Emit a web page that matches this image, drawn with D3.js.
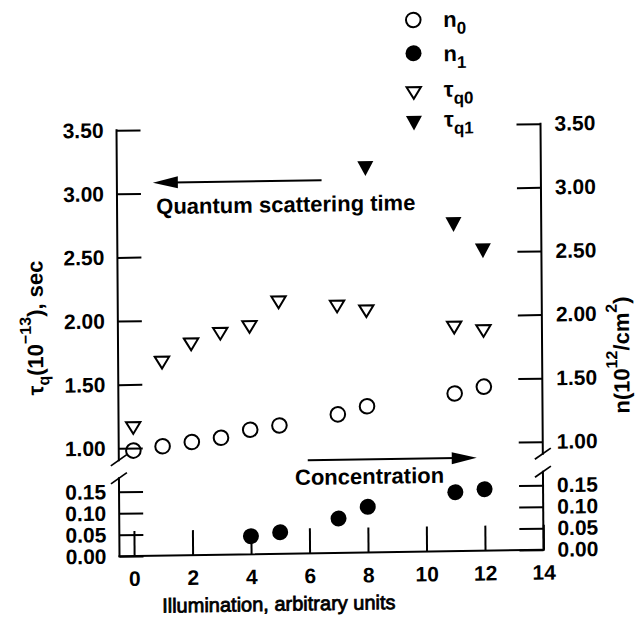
<!DOCTYPE html>
<html><head><meta charset="utf-8">
<script src="https://cdn.jsdelivr.net/npm/d3@7"></script>
<style>
html,body{margin:0;padding:0;background:#fff;}
svg{display:block;}
text{font-family:"Liberation Sans",Arial,Helvetica,sans-serif;fill:#000;}
</style>
</head><body>
<svg id="chart" width="637" height="622"></svg>
<script>
// ---- data ----
const illumN0 = [0, 1, 2, 3, 4, 5, 7, 8, 11, 12];
const n0Values = [0.98, 1.01, 1.04, 1.07, 1.13, 1.16, 1.24, 1.30, 1.39, 1.44];
const illumN1 = [4, 5, 7, 8, 11, 12];
const n1Values = [0.042, 0.050, 0.080, 0.106, 0.137, 0.143];
const illumTauQ0 = [0, 1, 2, 3, 4, 5, 7, 8, 11, 12];
const tauQ0Values = [1.16, 1.67, 1.81, 1.89, 1.94, 2.13, 2.09, 2.05, 1.91, 1.88];
const illumTauQ1 = [8, 11, 12];
const tauQ1Values = [3.17, 2.72, 2.51];
const xTicks = [0, 2, 4, 6, 8, 10, 12, 14];
const upperTicks = [1.00, 1.50, 2.00, 2.50, 3.00, 3.50];
const lowerTicks = [0.00, 0.05, 0.10, 0.15];
const legendMain = ["n", "n", "\u03C4", "\u03C4"];
const legendSub = ["0", "1", "q0", "q1"];
const xTitle = "Illumination, arbitrary units";

// ---- layout ----
const svg = d3.select("#chart");
svg.append("rect").attr("width", 637).attr("height", 622).attr("fill", "#fff");
// slight scan tilt
const root = svg.append("g").attr("transform", "matrix(1,-0.0154,0.007,1,-2.38,5.08)");

const x = d3.scaleLinear().domain([-0.5, 14]).range([118, 542]);
const yU = d3.scaleLinear().domain([1, 3.5]).range([445, 127]);
const yL = d3.scaleLinear().domain([0, 0.15]).range([553, 488.5]);

const FONT = '"Liberation Sans",Arial,Helvetica,sans-serif';
const fmt = d3.format(".2f");
function styleAxis(g) {
  g.selectAll(".domain").remove();
  g.selectAll("line").attr("stroke", "#000").attr("stroke-width", 2);
  g.selectAll("text").attr("font-size", 21).attr("font-weight", "bold")
    .attr("fill", "#000").attr("font-family", FONT);
}
const xL = x(-0.5), xR = x(14);

// left axes
root.append("g").attr("transform", `translate(${xL},0)`)
  .call(d3.axisLeft(yU).tickValues(upperTicks).tickFormat(fmt).tickSizeInner(-24).tickSizeOuter(0).tickPadding(13))
  .call(styleAxis);
root.append("g").attr("transform", `translate(${xL},0)`)
  .call(d3.axisLeft(yL).tickValues(lowerTicks).tickFormat(fmt).tickSizeInner(-24).tickSizeOuter(0).tickPadding(13))
  .call(styleAxis);
// right axes
root.append("g").attr("transform", `translate(${xR},0)`)
  .call(d3.axisRight(yU).tickValues(upperTicks).tickFormat(fmt).tickSizeInner(-24).tickSizeOuter(0).tickPadding(14))
  .call(styleAxis);
root.append("g").attr("transform", `translate(${xR},0)`)
  .call(d3.axisRight(yL).tickValues(lowerTicks).tickFormat(fmt).tickSizeInner(-24).tickSizeOuter(0).tickPadding(14))
  .call(styleAxis);
// bottom axis
root.append("g").attr("transform", `translate(0,${yL(0)})`)
  .call(d3.axisBottom(x).tickValues(xTicks).tickFormat(d3.format("d")).tickSizeInner(-25).tickSizeOuter(0).tickPadding(15))
  .call(styleAxis);

// axis lines with breaks
const breakA = yU(1) + 12, breakB = yL(0.15) - 13.5;
const axisLines = [
  [xL, yU(3.5), xL, breakA], [xL, breakB, xL, yL(0)],
  [xR, yU(3.5), xR, breakA], [xR, breakB, xR, yL(0)],
  [xL, yL(0), xR, yL(0)]
];
root.selectAll(".axline").data(axisLines).join("line").attr("class", "axline")
  .attr("x1", d => d[0]).attr("y1", d => d[1]).attr("x2", d => d[2]).attr("y2", d => d[3])
  .attr("stroke", "#000").attr("stroke-width", 2).attr("stroke-linecap", "square");
const slashes = [];
[xL, xR].forEach(ax => [breakA, breakB].forEach(by => slashes.push([ax, by])));
root.selectAll(".slash").data(slashes).join("line").attr("class", "slash")
  .attr("x1", d => d[0] - 8).attr("y1", d => d[1] + 5.5)
  .attr("x2", d => d[0] + 8).attr("y2", d => d[1] - 5.5)
  .attr("stroke", "#000").attr("stroke-width", 1.8);

// ---- marks ----
const triOpen = "M-7.2,-5.6L7.2,-5.6L0,6.2Z";
const triFill = "M-8,-7.2L8,-7.2L0,7.6Z";

root.selectAll(".n0").data(d3.zip(illumN0, n0Values)).join("circle").attr("class", "n0")
  .attr("cx", d => x(d[0])).attr("cy", d => yU(d[1])).attr("r", 7.3)
  .attr("fill", "none").attr("stroke", "#000").attr("stroke-width", 2);
root.selectAll(".n1").data(d3.zip(illumN1, n1Values)).join("circle").attr("class", "n1")
  .attr("cx", d => x(d[0])).attr("cy", d => yL(d[1])).attr("r", 8).attr("fill", "#000");
root.selectAll(".tq0").data(d3.zip(illumTauQ0, tauQ0Values)).join("path").attr("class", "tq0")
  .attr("d", triOpen).attr("transform", d => `translate(${x(d[0])},${yU(d[1])})`)
  .attr("fill", "none").attr("stroke", "#000").attr("stroke-width", 2).attr("stroke-linejoin", "miter");
root.selectAll(".tq1").data(d3.zip(illumTauQ1, tauQ1Values)).join("path").attr("class", "tq1")
  .attr("d", triFill).attr("transform", d => `translate(${x(d[0])},${yU(d[1])})`)
  .attr("fill", "#000");

// ---- annotations ----
function arrow(x0, x1, y) {
  const dir = Math.sign(x1 - x0);
  root.append("line").attr("x1", x0).attr("y1", y).attr("x2", x1 - dir * 20).attr("y2", y)
    .attr("stroke", "#000").attr("stroke-width", 2);
  root.append("path").attr("d", `M${x1},${y}L${x1 - dir * 25},${y - 6}L${x1 - dir * 25},${y + 6}Z`).attr("fill", "#000");
}
arrow(x(6.5), x(0.73), yU(3.083));
root.append("text").attr("x", x(0.84)).attr("y", yU(2.836))
  .attr("font-size", 22).attr("font-weight", "bold").text("Quantum scattering time");
arrow(x(5.96), x(11.74), yU(0.882));
root.append("text").attr("x", x(5.52)).attr("y", yU(0.689))
  .attr("font-size", 22).attr("font-weight", "bold").text("Concentration");

// ---- titles ----
root.append("text").attr("x", 277).attr("y", 610).attr("text-anchor", "middle")
  .attr("font-size", 20).attr("stroke", "#000").attr("stroke-width", 0.8).text(xTitle);

const lt = root.append("text").attr("transform", "translate(43,323.5) rotate(-90)")
  .attr("text-anchor", "middle").attr("font-size", 22).attr("font-weight", "bold");
lt.append("tspan").text("\u03C4");
lt.append("tspan").attr("font-size", 16).attr("dy", 6).text("q");
lt.append("tspan").attr("dy", -6).text("(10");
lt.append("tspan").attr("font-size", 16).attr("dy", -12).text("\u221213");
lt.append("tspan").attr("dy", 12).text("), sec");

const rt = root.append("text").attr("transform", "translate(629,359.5) rotate(-90)")
  .attr("text-anchor", "middle").attr("font-size", 22).attr("font-weight", "bold");
rt.append("tspan").text("n(10");
rt.append("tspan").attr("font-size", 16).attr("dy", -12).text("12");
rt.append("tspan").attr("dy", 12).text("/cm");
rt.append("tspan").attr("font-size", 16).attr("dy", -12).text("2");
rt.append("tspan").attr("dy", 12).text(")");

// ---- legend ----
const legY = [21.3, 54.6, 94, 124.3];
const legBase = [7.5, 8.5, 4.6, 4.3];
const legX = 415.5;
const leg = root.append("g");
leg.append("circle").attr("cx", legX).attr("cy", legY[0]).attr("r", 7.3)
  .attr("fill", "none").attr("stroke", "#000").attr("stroke-width", 2);
leg.append("circle").attr("cx", legX).attr("cy", legY[1]).attr("r", 8).attr("fill", "#000");
leg.append("path").attr("d", triOpen).attr("transform", `translate(${legX},${legY[2]})`)
  .attr("fill", "none").attr("stroke", "#000").attr("stroke-width", 2);
leg.append("path").attr("d", triFill).attr("transform", `translate(${legX},${legY[3]})`).attr("fill", "#000");
legendMain.forEach((m, i) => {
  const t = leg.append("text").attr("x", legX + 30).attr("y", legY[i] + legBase[i])
    .attr("font-size", 22).attr("font-weight", "bold");
  t.append("tspan").text(m);
  t.append("tspan").attr("font-size", 17).attr("dy", 7).text(legendSub[i]);
});
</script>
</body></html>
